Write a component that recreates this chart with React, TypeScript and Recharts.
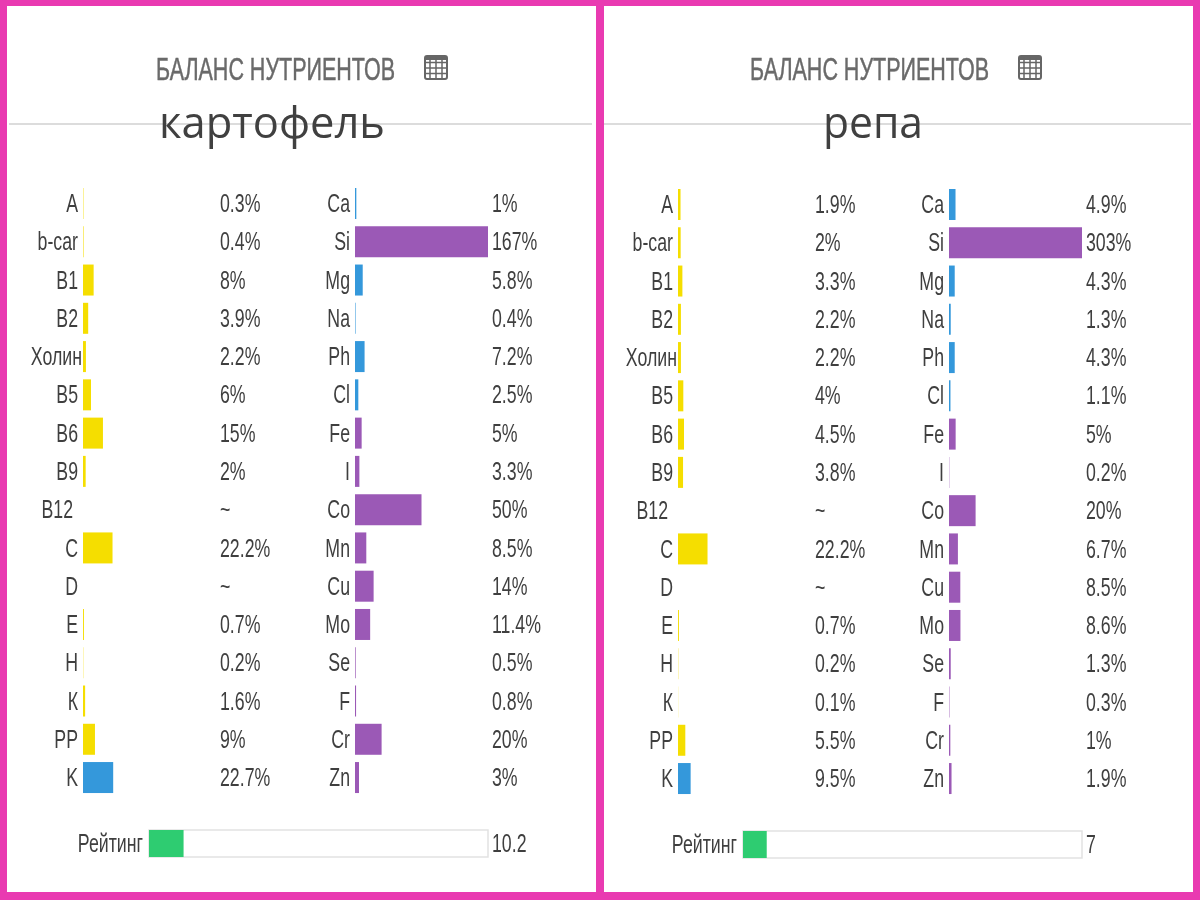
import React from "react";
import { BarChart, Bar, XAxis, YAxis, Cell } from "recharts";

const vitamins = ["A", "b-car", "B1", "B2", "Холин", "B5", "B6", "B9", "B12", "C", "D", "E", "H", "К", "PP", "K"];
const minerals = ["Ca", "Si", "Mg", "Na", "Ph", "Cl", "Fe", "I", "Co", "Mn", "Cu", "Mo", "Se", "F", "Cr", "Zn"];

const potatoVitamins = [0.3, 0.4, 8, 3.9, 2.2, 6, 15, 2, null, 22.2, null, 0.7, 0.2, 1.6, 9, 22.7];
const potatoMinerals = [1, 167, 5.8, 0.4, 7.2, 2.5, 5, 3.3, 50, 8.5, 14, 11.4, 0.5, 0.8, 20, 3];
const turnipVitamins = [1.9, 2, 3.3, 2.2, 2.2, 4, 4.5, 3.8, null, 22.2, null, 0.7, 0.2, 0.1, 5.5, 9.5];
const turnipMinerals = [4.9, 303, 4.3, 1.3, 4.3, 1.1, 5, 0.2, 20, 6.7, 8.5, 8.6, 1.3, 0.3, 1, 1.9];

const potatoRating = 10.2;
const turnipRating = 7;

const YELLOW = "#f5de00";
const BLUE = "#3498db";
const PURPLE = "#9b59b6";
const GREEN = "#2ecc71";
const MAGENTA = "#e93ab1";
const TEXT = "#3f3f3f";
const SANS = "'Liberation Sans', sans-serif";

const blueMinerals = ["Ca", "Mg", "Na", "Ph", "Cl"];
const vitaminColor = (i: number) => (i === vitamins.length - 1 ? BLUE : YELLOW);
const mineralColor = (i: number) => (blueMinerals.includes(minerals[i]) ? BLUE : PURPLE);

const labelNudge: Record<string, number> = { B12: -5, "Холин": 4 };

const PLOT_W = 133;
const ROW = 38.27;
const LEFT_AXIS = 70;
const RIGHT_AXIS = 70;

const NameTick = (props: any) => {
  const { x, y, payload } = props;
  const dx = labelNudge[payload.value] ?? 0;
  return (
    <text transform={`translate(${x + dx} ${y + 9}) scale(0.71 1)`} textAnchor="end" fontFamily={SANS} fontSize={25} fill={TEXT}>
      {payload.value}
    </text>
  );
};

const ValueTick = (props: any) => {
  const { x, y, payload } = props;
  return (
    <text transform={`translate(${x} ${y + 9}) scale(0.71 1)`} textAnchor="start" fontFamily={SANS} fontSize={25} fill={TEXT}>
      {payload.value}
    </text>
  );
};

function Column({ names, values, color, x0, top }: { names: string[]; values: (number | null)[]; color: (i: number) => string; x0: number; top: number }) {
  const rows = names.map((name, i) => ({
    name,
    bar: values[i] === null ? 0 : Math.min(values[i] as number, 100),
    label: values[i] === null ? "~" : `${values[i]}%`,
  }));
  return (
    <div style={{ position: "absolute", left: x0 - LEFT_AXIS, top }}>
      <BarChart
        width={LEFT_AXIS + PLOT_W + RIGHT_AXIS}
        height={ROW * names.length}
        data={rows}
        layout="vertical"
        margin={{ top: 0, right: 0, bottom: 0, left: 0 }}
      >
        <XAxis type="number" domain={[0, 100]} hide />
        <YAxis yAxisId="names" type="category" dataKey="name" width={LEFT_AXIS} axisLine={false} tickLine={false} tickSize={0} tickMargin={5} interval={0} tick={NameTick} />
        <YAxis yAxisId="values" type="category" orientation="right" dataKey="label" width={RIGHT_AXIS} axisLine={false} tickLine={false} tickSize={0} tickMargin={4} interval={0} tick={ValueTick} />
        <Bar yAxisId="names" dataKey="bar" barSize={31} isAnimationActive={false}>
          {rows.map((r, i) => (
            <Cell key={i} fill={color(i)} />
          ))}
        </Bar>
      </BarChart>
    </div>
  );
}

function Rating({ value, x0, top }: { value: number; x0: number; top: number }) {
  const rows = [{ name: "Рейтинг", v: value, label: String(value) }];
  const width = 339;
  return (
    <div style={{ position: "absolute", left: x0 - LEFT_AXIS - 20, top }}>
      <BarChart width={LEFT_AXIS + 20 + width + RIGHT_AXIS} height={30} data={rows} layout="vertical" margin={{ top: 0, right: 0, bottom: 0, left: 0 }}>
        <XAxis type="number" domain={[0, 100]} hide />
        <YAxis yAxisId="names" type="category" dataKey="name" width={LEFT_AXIS + 20} axisLine={false} tickLine={false} tickSize={0} tickMargin={6} tick={NameTick} />
        <YAxis yAxisId="values" type="category" orientation="right" dataKey="label" width={RIGHT_AXIS} axisLine={false} tickLine={false} tickSize={0} tickMargin={4} tick={ValueTick} />
        <Bar yAxisId="names" dataKey="v" barSize={30} fill={GREEN} isAnimationActive={false} background={{ fill: "#fff", stroke: "#e2e2e2", strokeWidth: 1.5 }} />
      </BarChart>
    </div>
  );
}

function TableIcon({ x }: { x: number }) {
  const cols = [6, 12, 18];
  const rowsY = [6.5, 12, 17.5];
  return (
    <svg style={{ position: "absolute", left: x, top: 55 }} width={24} height={26}>
      <rect x={1} y={1} width={22} height={23} rx={2} fill="none" stroke="#666" strokeWidth={2} />
      <rect x={1} y={1} width={22} height={4} fill="#666" />
      {cols.map((c) => (
        <line key={c} x1={c} x2={c} y1={2} y2={23} stroke="#666" strokeWidth={1.5} />
      ))}
      {rowsY.map((r) => (
        <line key={r} x1={2} x2={22} y1={r + 1} y2={r + 1} stroke="#666" strokeWidth={1.5} />
      ))}
    </svg>
  );
}

function Header({ titleX, iconX, lineX, lineW, name, nameX, nameW }: { titleX: number; iconX: number; lineX: number; lineW: number; name: string; nameX: number; nameW: number }) {
  return (
    <>
      <div style={{ position: "absolute", left: lineX, top: 123, width: lineW, height: 2, background: "#dcdcdc" }} />
      <svg style={{ position: "absolute", left: 0, top: 0 }} width={1200} height={160}>
        <text x={titleX} y={80} fontFamily={SANS} fontSize={32} fill="#6a6a6a" stroke="#6a6a6a" strokeWidth={0.5} textLength={239} lengthAdjust="spacingAndGlyphs">
          БАЛАНС НУТРИЕНТОВ
        </text>
        <text x={nameX} y={138} fontFamily="'Open Sans', sans-serif" fontSize={44} fill="#404040" textLength={nameW} lengthAdjust="spacingAndGlyphs">
          {name}
        </text>
      </svg>
      <TableIcon x={iconX} />
    </>
  );
}

export default function App() {
  return (
    <div style={{ position: "absolute", left: 0, top: 0, width: 1200, height: 900, background: "#fff", overflow: "hidden", filter: "blur(0.5px)" }}>
      <Header titleX={156} iconX={424} lineX={9} lineW={583} name="картофель" nameX={159} nameW={226} />
      <Header titleX={750} iconX={1018} lineX={604} lineW={587} name="репа" nameX={823} nameW={100} />

      <Column names={vitamins} values={potatoVitamins} color={vitaminColor} x0={83} top={184} />
      <Column names={minerals} values={potatoMinerals} color={mineralColor} x0={355} top={184} />
      <Column names={vitamins} values={turnipVitamins} color={vitaminColor} x0={678} top={184.5} />
      <Column names={minerals} values={turnipMinerals} color={mineralColor} x0={949} top={184.5} />

      <Rating value={potatoRating} x0={149} top={828} />
      <Rating value={turnipRating} x0={743} top={829} />

      <div style={{ position: "absolute", left: 0, top: 0, width: 1200, height: 6, background: MAGENTA }} />
      <div style={{ position: "absolute", left: 0, top: 892, width: 1200, height: 8, background: MAGENTA }} />
      <div style={{ position: "absolute", left: 0, top: 0, width: 7, height: 900, background: MAGENTA }} />
      <div style={{ position: "absolute", left: 596, top: 0, width: 8, height: 900, background: MAGENTA }} />
      <div style={{ position: "absolute", left: 1193, top: 0, width: 7, height: 900, background: MAGENTA }} />
    </div>
  );
}
